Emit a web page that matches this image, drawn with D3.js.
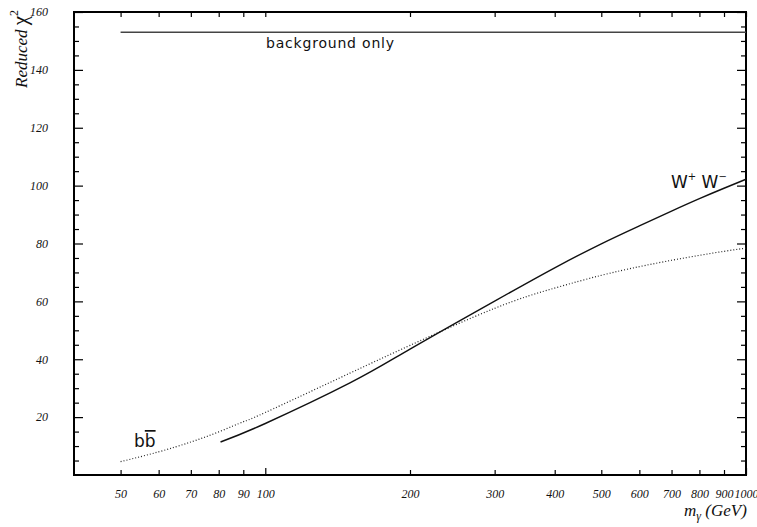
<!DOCTYPE html>
<html><head><meta charset="utf-8">
<script src="https://cdn.jsdelivr.net/npm/d3@7"></script>
<style>
body{margin:0;background:#fff;}
svg{display:block;}
.tick text{font-family:"Liberation Serif",serif;font-style:italic;font-size:12px;fill:#111;}
</style></head>
<body><svg id="c" width="757" height="527"></svg>
<script>
// Data
const xTickValues = [50,60,70,80,90,100,200,300,400,500,600,700,800,900,1000];
const yTickValues = [20,40,60,80,100,120,140,160];
const yMinorValues = d3.range(5,160,5);
const backgroundOnly = 153;
const bbMass = [50,60,70,80,90,100,150,200,300,400,500,600,700,800,900,1000];
const bbChi2 = [4.6,8.0,11.4,14.9,18.4,21.6,35.2,44.8,57.6,64.6,69.0,72.0,74.2,75.9,77.3,78.4];
const wwMass = [80.7,100,150,200,300,400,500,600,700,800,900,1000];
const wwChi2 = [11.4,17.8,31.8,43.5,60.1,71.6,79.9,86.1,91.2,95.5,99.1,102.2];

const svg = d3.select("#c");
const L=74, R=746, T=12, B=475;
const x = d3.scaleLog().domain([40,1000]).range([L,R]);
const y = d3.scaleLinear().domain([0,160]).range([B,T]);
const fmt = d => String(d);

// Bottom axis
const gB = svg.append("g").attr("transform",`translate(0,${B})`)
  .call(d3.axisBottom(x).tickValues(xTickValues).tickFormat(fmt).tickSizeInner(-5).tickSizeOuter(0).tickPadding(14));
gB.select(".domain").remove();
gB.selectAll(".tick line").attr("stroke","#000").attr("stroke-width",1.2)
  .attr("y2",d=> (d===100||d===1000)?-7:-5);
// Top axis ticks
const gT = svg.append("g").attr("transform",`translate(0,${T})`)
  .call(d3.axisTop(x).tickValues(xTickValues).tickFormat("").tickSizeInner(-5).tickSizeOuter(0));
gT.select(".domain").remove();
gT.selectAll(".tick line").attr("stroke","#000").attr("stroke-width",1.2);

// Left axis
const gL = svg.append("g").attr("transform",`translate(${L},0)`)
  .call(d3.axisLeft(y).tickValues(yTickValues).tickFormat(fmt).tickSizeInner(-9).tickSizeOuter(0).tickPadding(26));
gL.select(".domain").remove();
gL.selectAll(".tick line").attr("stroke","#000").attr("stroke-width",1.2);
const gLm = svg.append("g").attr("transform",`translate(${L},0)`)
  .call(d3.axisLeft(y).tickValues(yMinorValues.filter(v=>v%20!==0)).tickFormat("").tickSizeInner(-5).tickSizeOuter(0));
gLm.select(".domain").remove();
gLm.selectAll(".tick line").attr("stroke","#000").attr("stroke-width",1.2);
// Right axis
const gR = svg.append("g").attr("transform",`translate(${R},0)`)
  .call(d3.axisRight(y).tickValues(yTickValues).tickFormat("").tickSizeInner(-9).tickSizeOuter(0));
gR.select(".domain").remove();
gR.selectAll(".tick line").attr("stroke","#000").attr("stroke-width",1.2);
const gRm = svg.append("g").attr("transform",`translate(${R},0)`)
  .call(d3.axisRight(y).tickValues(yMinorValues.filter(v=>v%20!==0)).tickFormat("").tickSizeInner(-5).tickSizeOuter(0));
gRm.select(".domain").remove();
gRm.selectAll(".tick line").attr("stroke","#000").attr("stroke-width",1.2);

// Frame
svg.append("rect").attr("x",L).attr("y",T).attr("width",R-L).attr("height",B-T)
  .attr("fill","none").attr("stroke","#000").attr("stroke-width",2);

// Background only line
svg.append("line").attr("x1",x(50)).attr("x2",x(1000)).attr("y1",y(backgroundOnly)).attr("y2",y(backgroundOnly))
  .attr("stroke","#444").attr("stroke-width",1.5);

const line = d3.line().x(d=>x(d[0])).y(d=>y(d[1])).curve(d3.curveNatural);
svg.append("path").datum(bbMass.map((m,i)=>[m,bbChi2[i]])).attr("d",line)
  .attr("fill","none").attr("stroke","#222").attr("stroke-width",1.2).attr("stroke-dasharray","1,2");
svg.append("path").datum(wwMass.map((m,i)=>[m,wwChi2[i]])).attr("d",line)
  .attr("fill","none").attr("stroke","#111").attr("stroke-width",1.4);

// Curve labels
const sans = "'DejaVu Sans',sans-serif";
svg.append("text").attr("x",266).attr("y",48).attr("font-family",sans).attr("font-size",14)
  .attr("letter-spacing","0.8px").attr("fill","#111").text("background only");
const ww = svg.append("text").attr("x",671).attr("y",188).attr("font-family",sans).attr("font-size",17).attr("fill","#111");
ww.append("tspan").text("W");
ww.append("tspan").attr("dy",-8).attr("font-size",10).text("+");
ww.append("tspan").attr("dy",8).text(" W");
ww.append("tspan").attr("dy",-8).attr("font-size",10).text("\u2212");
const bb = svg.append("text").attr("x",134).attr("y",447).attr("font-family",sans).attr("font-size",17).attr("fill","#111");
bb.append("tspan").text("b");
bb.append("tspan").style("text-decoration","overline").text("b");

// Axis titles
const yt = svg.append("text").attr("transform","translate(27,88) rotate(-90)")
  .attr("font-family","'Liberation Serif',serif").attr("font-style","italic").attr("font-size",17).attr("fill","#111");
yt.append("tspan").text("Reduced ");
yt.append("tspan").attr("font-size",21).attr("font-style","normal").text("\u03c7");
yt.append("tspan").attr("dy",-9).attr("font-size",12).attr("font-style","normal").text("2");
const xt = svg.append("text").attr("x",684).attr("y",516)
  .attr("font-family","'Liberation Serif',serif").attr("font-style","italic").attr("font-size",17).attr("fill","#111");
xt.append("tspan").text("m");
xt.append("tspan").attr("dy",4).attr("font-size",12).text("\u03b3");
xt.append("tspan").attr("dy",-4).text(" (GeV)");
</script></body></html>
